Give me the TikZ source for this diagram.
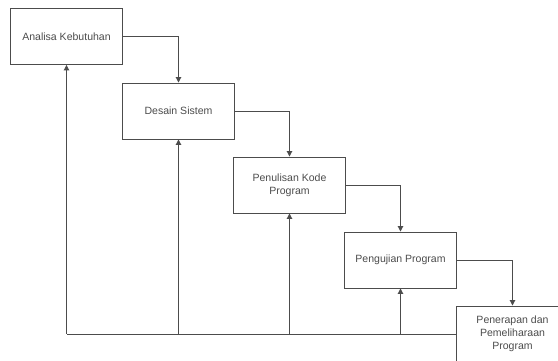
\documentclass[tikz,border=0pt]{standalone}
\usepackage{fontspec}
\setmainfont{Liberation Sans}
\usetikzlibrary{arrows.meta}
\begin{document}
\begin{tikzpicture}[x=0.75pt,y=-0.75pt,
  tahap/.style={draw=black!70, line width=0.7pt, fill=white, minimum width=84pt, minimum height=42pt, align=center, font=\fontsize{7.9}{9.6}\selectfont, text=black!70},
  alur/.style={draw=black!70, line width=0.7pt, -{Triangle[length=4pt,width=4pt]}}]
\useasboundingbox (0,0) rectangle (558,361);
\node[tahap] (analisa) at (66.5,36.5) {Analisa Kebutuhan};
\node[tahap] (desain) at (178.5,111) {Desain Sistem};
\node[tahap] (kode) at (289.5,185) {Penulisan Kode\\Program};
\node[tahap] (uji) at (400.5,260) {Pengujian Program};
\node[tahap] (terap) at (512.5,334) {Penerapan dan\\Pemeliharaan\\Program};
% alur ke bawah
\draw[alur] (analisa.east) -| (desain.north);
\draw[alur] (desain.east) -| (kode.north);
\draw[alur] (kode.east) -| (uji.north);
\draw[alur] (uji.east) -| (terap.north);
% umpan balik
\coordinate (pojok) at (analisa |- terap.west);
\draw[draw=black!70, line width=0.7pt] (terap.west) -- (pojok);
\draw[alur] (pojok) -- (analisa.south);
\draw[alur] (desain |- pojok) -- (desain.south);
\draw[alur] (kode |- pojok) -- (kode.south);
\draw[alur] (uji |- pojok) -- (uji.south);
\end{tikzpicture}
\end{document}
